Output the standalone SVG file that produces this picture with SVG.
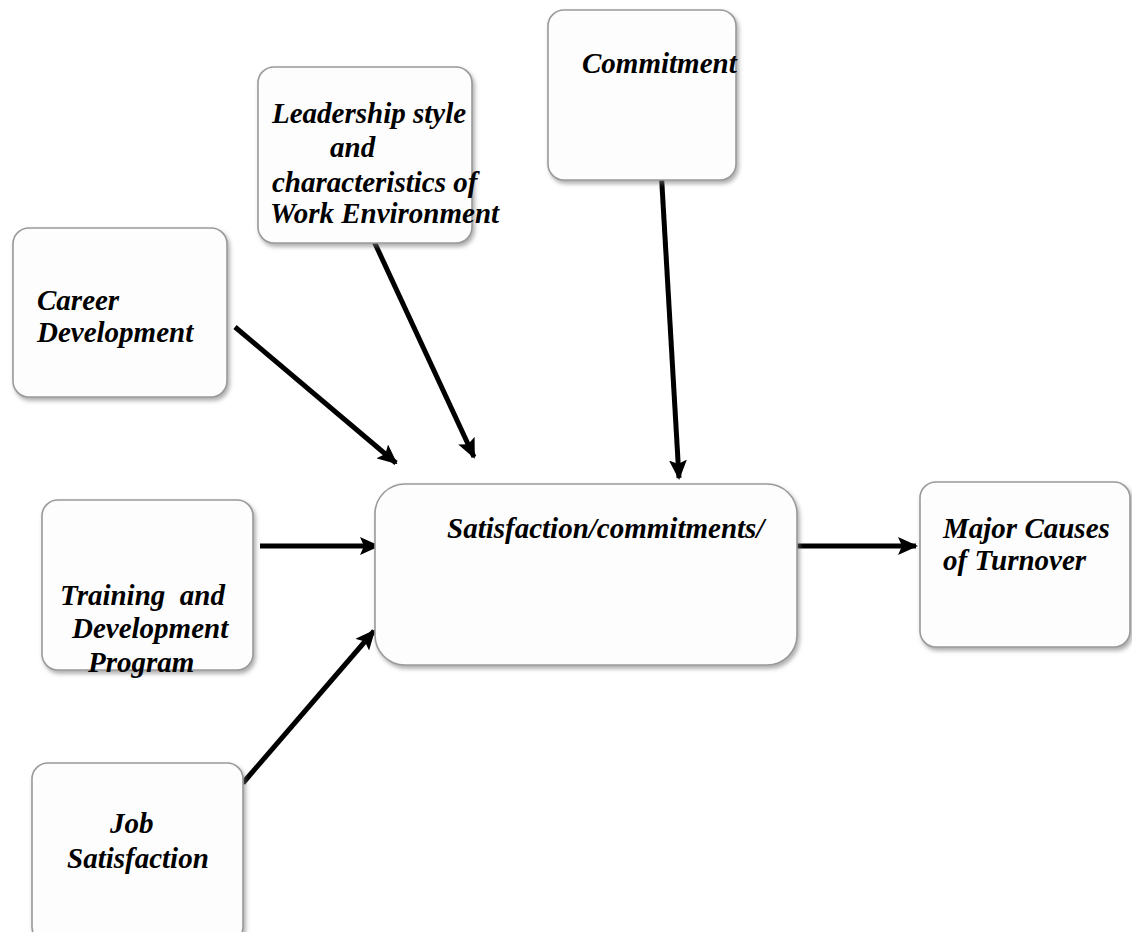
<svg xmlns="http://www.w3.org/2000/svg" width="1132" height="932" viewBox="0 0 1132 932">
<style>
.box{fill:#fdfdfd;stroke:#9a9a9a;stroke-width:1.6;filter:url(#sh)}
.t{font-family:"Liberation Serif","Times New Roman",serif;font-weight:bold;font-style:italic;font-size:29px;fill:#000}
.c{stroke:#000;stroke-width:5;fill:none;marker-end:url(#ah)}
</style>
<defs>
<filter id="sh" x="-10%" y="-10%" width="130%" height="130%">
<feDropShadow dx="2" dy="3" stdDeviation="2" flood-color="#777" flood-opacity="0.6"/>
</filter>
<marker id="ah" markerWidth="4" markerHeight="3.6" refX="3.6" refY="1.8" orient="auto" markerUnits="strokeWidth">
<path d="M0,0 L4,1.8 L0,3.6 L0.8,1.8 Z" fill="#000"/>
</marker>
</defs>
<rect width="1132" height="932" fill="#fff"/>
<g id="connectors">
<line class="c" x1="235" y1="327" x2="396" y2="463"/>
<line class="c" x1="372" y1="237" x2="474" y2="457"/>
<line class="c" x1="661" y1="168" x2="679" y2="478"/>
<line class="c" x1="260" y1="546" x2="378" y2="546"/>
<line class="c" x1="243" y1="783" x2="374" y2="631"/>
<line class="c" x1="790" y1="546" x2="916" y2="546"/>
</g>
<g id="leadership">
<rect class="box" x="258" y="67" width="214" height="176" rx="16"/>
<text class="t" x="272" y="123">Leadership style</text>
<text class="t" x="330" y="157">and</text>
<text class="t" x="272" y="192">characteristics of</text>
<text class="t" x="270" y="223">Work Environment</text>
</g>
<g id="commitment">
<rect class="box" x="548" y="10" width="188" height="170" rx="16"/>
<text class="t" x="582" y="73">Commitment</text>
</g>
<g id="career">
<rect class="box" x="13" y="228" width="214" height="169" rx="16"/>
<text class="t" x="37" y="310">Career</text>
<text class="t" x="37" y="342">Development</text>
</g>
<g id="training">
<rect class="box" x="42" y="500" width="211" height="170" rx="16"/>
<text class="t" x="60" y="605" style="white-space:pre">Training  and</text>
<text class="t" x="72" y="638">Development</text>
<text class="t" x="88" y="672">Program</text>
</g>
<g id="job">
<rect class="box" x="32" y="763" width="211" height="180" rx="16"/>
<text class="t" x="110" y="833">Job</text>
<text class="t" x="67" y="868">Satisfaction</text>
</g>
<g id="center">
<rect class="box" x="375" y="484" width="422" height="181" rx="30"/>
<text class="t" x="447" y="538">Satisfaction/commitments/</text>
</g>
<g id="major">
<rect class="box" x="920" y="482" width="210" height="165" rx="16"/>
<text class="t" x="943" y="538">Major Causes</text>
<text class="t" x="943" y="570">of Turnover</text>
</g>
</svg>
